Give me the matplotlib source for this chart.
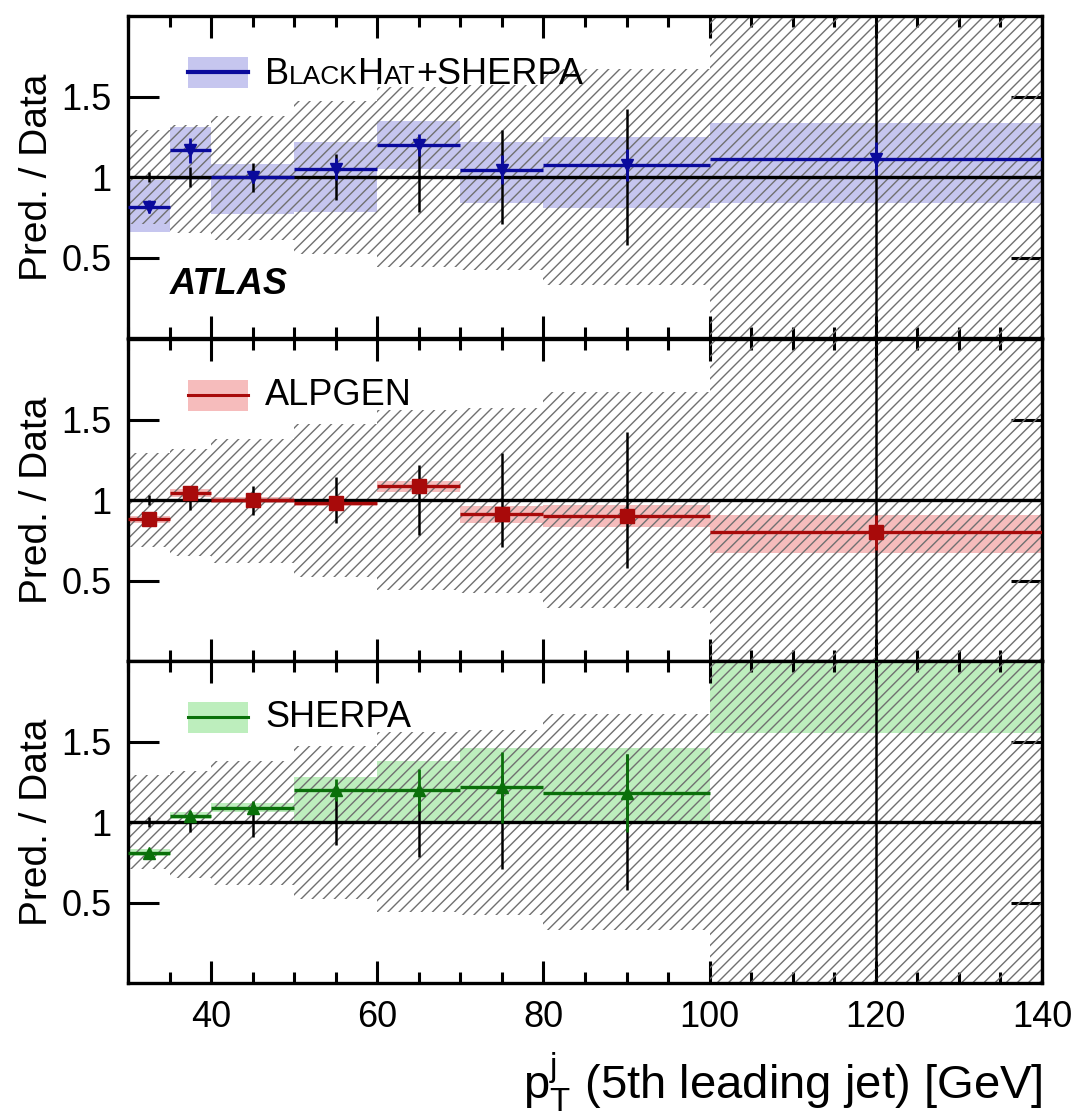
import numpy as np
import matplotlib
matplotlib.use('Agg')
import matplotlib.pyplot as plt
from matplotlib.ticker import MultipleLocator
from matplotlib.patches import Rectangle
from matplotlib.lines import Line2D

plt.rcParams['font.family'] = ['Liberation Sans', 'DejaVu Sans']
plt.rcParams['mathtext.fontset'] = 'custom'
plt.rcParams['mathtext.rm'] = 'Liberation Sans'
plt.rcParams['mathtext.it'] = 'Liberation Sans:italic'
plt.rcParams['hatch.linewidth'] = 1.0

# pT bins of the 5th leading jet
edges = [30, 35, 40, 50, 60, 70, 80, 100, 140]
centers = [32.5, 37.5, 45, 55, 65, 75, 90, 120]

# data: total uncertainty band (hatched) and statistical error bars
data_lo = [0.71, 0.65, 0.61, 0.52, 0.44, 0.42, 0.33, 0.0]
data_hi = [1.29, 1.32, 1.38, 1.47, 1.56, 1.57, 1.67, 2.0]
data_stat = [0.03, 0.065, 0.09, 0.14, 0.22, 0.29, 0.42, 1.5]

# BlackHat+Sherpa
bh_val = [0.815, 1.165, 1.0, 1.05, 1.2, 1.045, 1.075, 1.115]
bh_err = [0.04, 0.08, 0.04, 0.07, 0.07, 0.09, 0.1, 0.1]
bh_lo = [0.66, 0.98, 0.77, 0.78, 1.05, 0.84, 0.81, 0.84]
bh_hi = [0.98, 1.31, 1.08, 1.22, 1.35, 1.22, 1.25, 1.335]

# Alpgen
al_val = [0.88, 1.045, 1.0, 0.98, 1.085, 0.915, 0.90, 0.80]
al_err = [0.02, 0.03, 0.03, 0.03, 0.04, 0.04, 0.04, 0.11]
al_lo = [0.86, 1.02, 0.98, 0.96, 1.05, 0.86, 0.83, 0.67]
al_hi = [0.90, 1.07, 1.02, 1.00, 1.12, 0.96, 0.97, 0.91]

# Sherpa
sh_val = [0.81, 1.04, 1.09, 1.20, 1.20, 1.215, 1.18, 2.3]
sh_err = [0.02, 0.03, 0.04, 0.07, 0.13, 0.22, 0.24, 0.3]
sh_lo = [0.79, 1.02, 1.06, 1.0, 1.0, 1.0, 1.0, 1.55]
sh_hi = [0.83, 1.06, 1.12, 1.28, 1.38, 1.46, 1.46, 3.0]

panels = [
    dict(val=bh_val, err=bh_err, lo=bh_lo, hi=bh_hi, line='#0a0a9c', band='#c6c6ef', marker='v', ms=9),
    dict(val=al_val, err=al_err, lo=al_lo, hi=al_hi, line='#a80a0a', band='#f6bcbc', marker='s', ms=10),
    dict(val=sh_val, err=sh_err, lo=sh_lo, hi=sh_hi, line='#0a700a', band='#bdeebd', marker='^', ms=9),
]

fig = plt.figure(figsize=(10.8, 11.2), dpi=100)
left, width = 0.1185, 0.8463
bottoms = [0.6982, 0.4098, 0.1223]
height = 0.2875

def step(arr):
    return list(arr) + [arr[-1]]

axes = []
for i, p in enumerate(panels):
    ax = fig.add_axes([left, bottoms[i], width, height])
    axes.append(ax)

    # prediction uncertainty band
    ax.fill_between(edges, step(p['lo']), step(p['hi']), step='post',
                    facecolor=p['band'], edgecolor='none', linewidth=0, zorder=1)
    # data uncertainty (hatched)
    ax.fill_between(edges, step(data_lo), step(data_hi), step='post',
                    facecolor='none', edgecolor='#707070', hatch='///', linewidth=0, zorder=2)
    ax.axhline(1.0, color='black', lw=2.4, zorder=3)

    # data statistical errors around 1
    ax.vlines(centers, [1 - s for s in data_stat], [1 + s for s in data_stat],
              color='black', lw=1.8, zorder=4)

    # prediction: bin-wide lines, error bars and markers
    ax.hlines(p['val'], edges[:-1], edges[1:], color=p['line'], lw=2.4, zorder=5)
    ax.errorbar(centers, p['val'], yerr=p['err'], fmt=p['marker'], color=p['line'],
                ms=p['ms'], elinewidth=2.0, capsize=0, zorder=6)

    ax.set_xlim(30, 140)
    ax.set_ylim(0, 2)
    ax.set_yticks([0.5, 1, 1.5])
    ax.set_yticklabels(['0.5', '1', '1.5'])
    ax.xaxis.set_major_locator(MultipleLocator(20))
    ax.xaxis.set_minor_locator(MultipleLocator(5))
    ax.tick_params(axis='both', which='both', direction='in', top=True, right=True,
                   labelsize=26, width=2.2)
    ax.tick_params(axis='y', which='major', length=22, pad=12)
    ax.tick_params(axis='x', which='major', length=16, pad=12)
    ax.tick_params(axis='x', which='minor', length=8)
    ax.tick_params(axis='y', which='minor', left=False, right=False)
    for s in ax.spines.values():
        s.set_linewidth(2.4)
    if i < 2:
        ax.tick_params(axis='x', labelbottom=False)

    ax.set_ylabel('Pred. / Data', fontsize=28)
    ax.yaxis.set_label_coords(-0.08, 0.5)

    # legend entry: band with a line through it
    ax.add_patch(Rectangle((0.066, 0.777), 0.065, 0.097, transform=ax.transAxes,
                           facecolor=p['band'], edgecolor='none', zorder=7))
    ax.add_line(Line2D([0.066, 0.131], [0.8255, 0.8255], transform=ax.transAxes,
                       color=p['line'], lw=3 if i == 0 else 2.2, zorder=8))

# legend labels; BlackHat written in small caps, pieces share one baseline
big, small = 26, 19
renderer = fig.canvas.get_renderer()
x = 0.15
for piece, size in [('B', big), ('LACK', small), ('H', big), ('AT', small), ('+SHERPA', big)]:
    t = axes[0].text(x, 0.788, piece, transform=axes[0].transAxes, fontsize=size, va='baseline')
    bb = t.get_window_extent(renderer).transformed(axes[0].transAxes.inverted())
    x = bb.x1
axes[1].text(0.15, 0.8255, 'ALPGEN', transform=axes[1].transAxes, fontsize=big, va='center')
axes[2].text(0.15, 0.8255, 'SHERPA', transform=axes[2].transAxes, fontsize=big, va='center')

axes[0].text(0.046, 0.165, 'ATLAS', transform=axes[0].transAxes, fontsize=26,
             fontweight='bold', fontstyle='italic', va='center')

fig.text(0.965, 0.034, r'$\mathrm{p}_{\mathrm{T}}^{\mathrm{j}}$ (5th leading jet) [GeV]',
         fontsize=34, ha='right', va='center')

fig.savefig('out.png', dpi=100)
